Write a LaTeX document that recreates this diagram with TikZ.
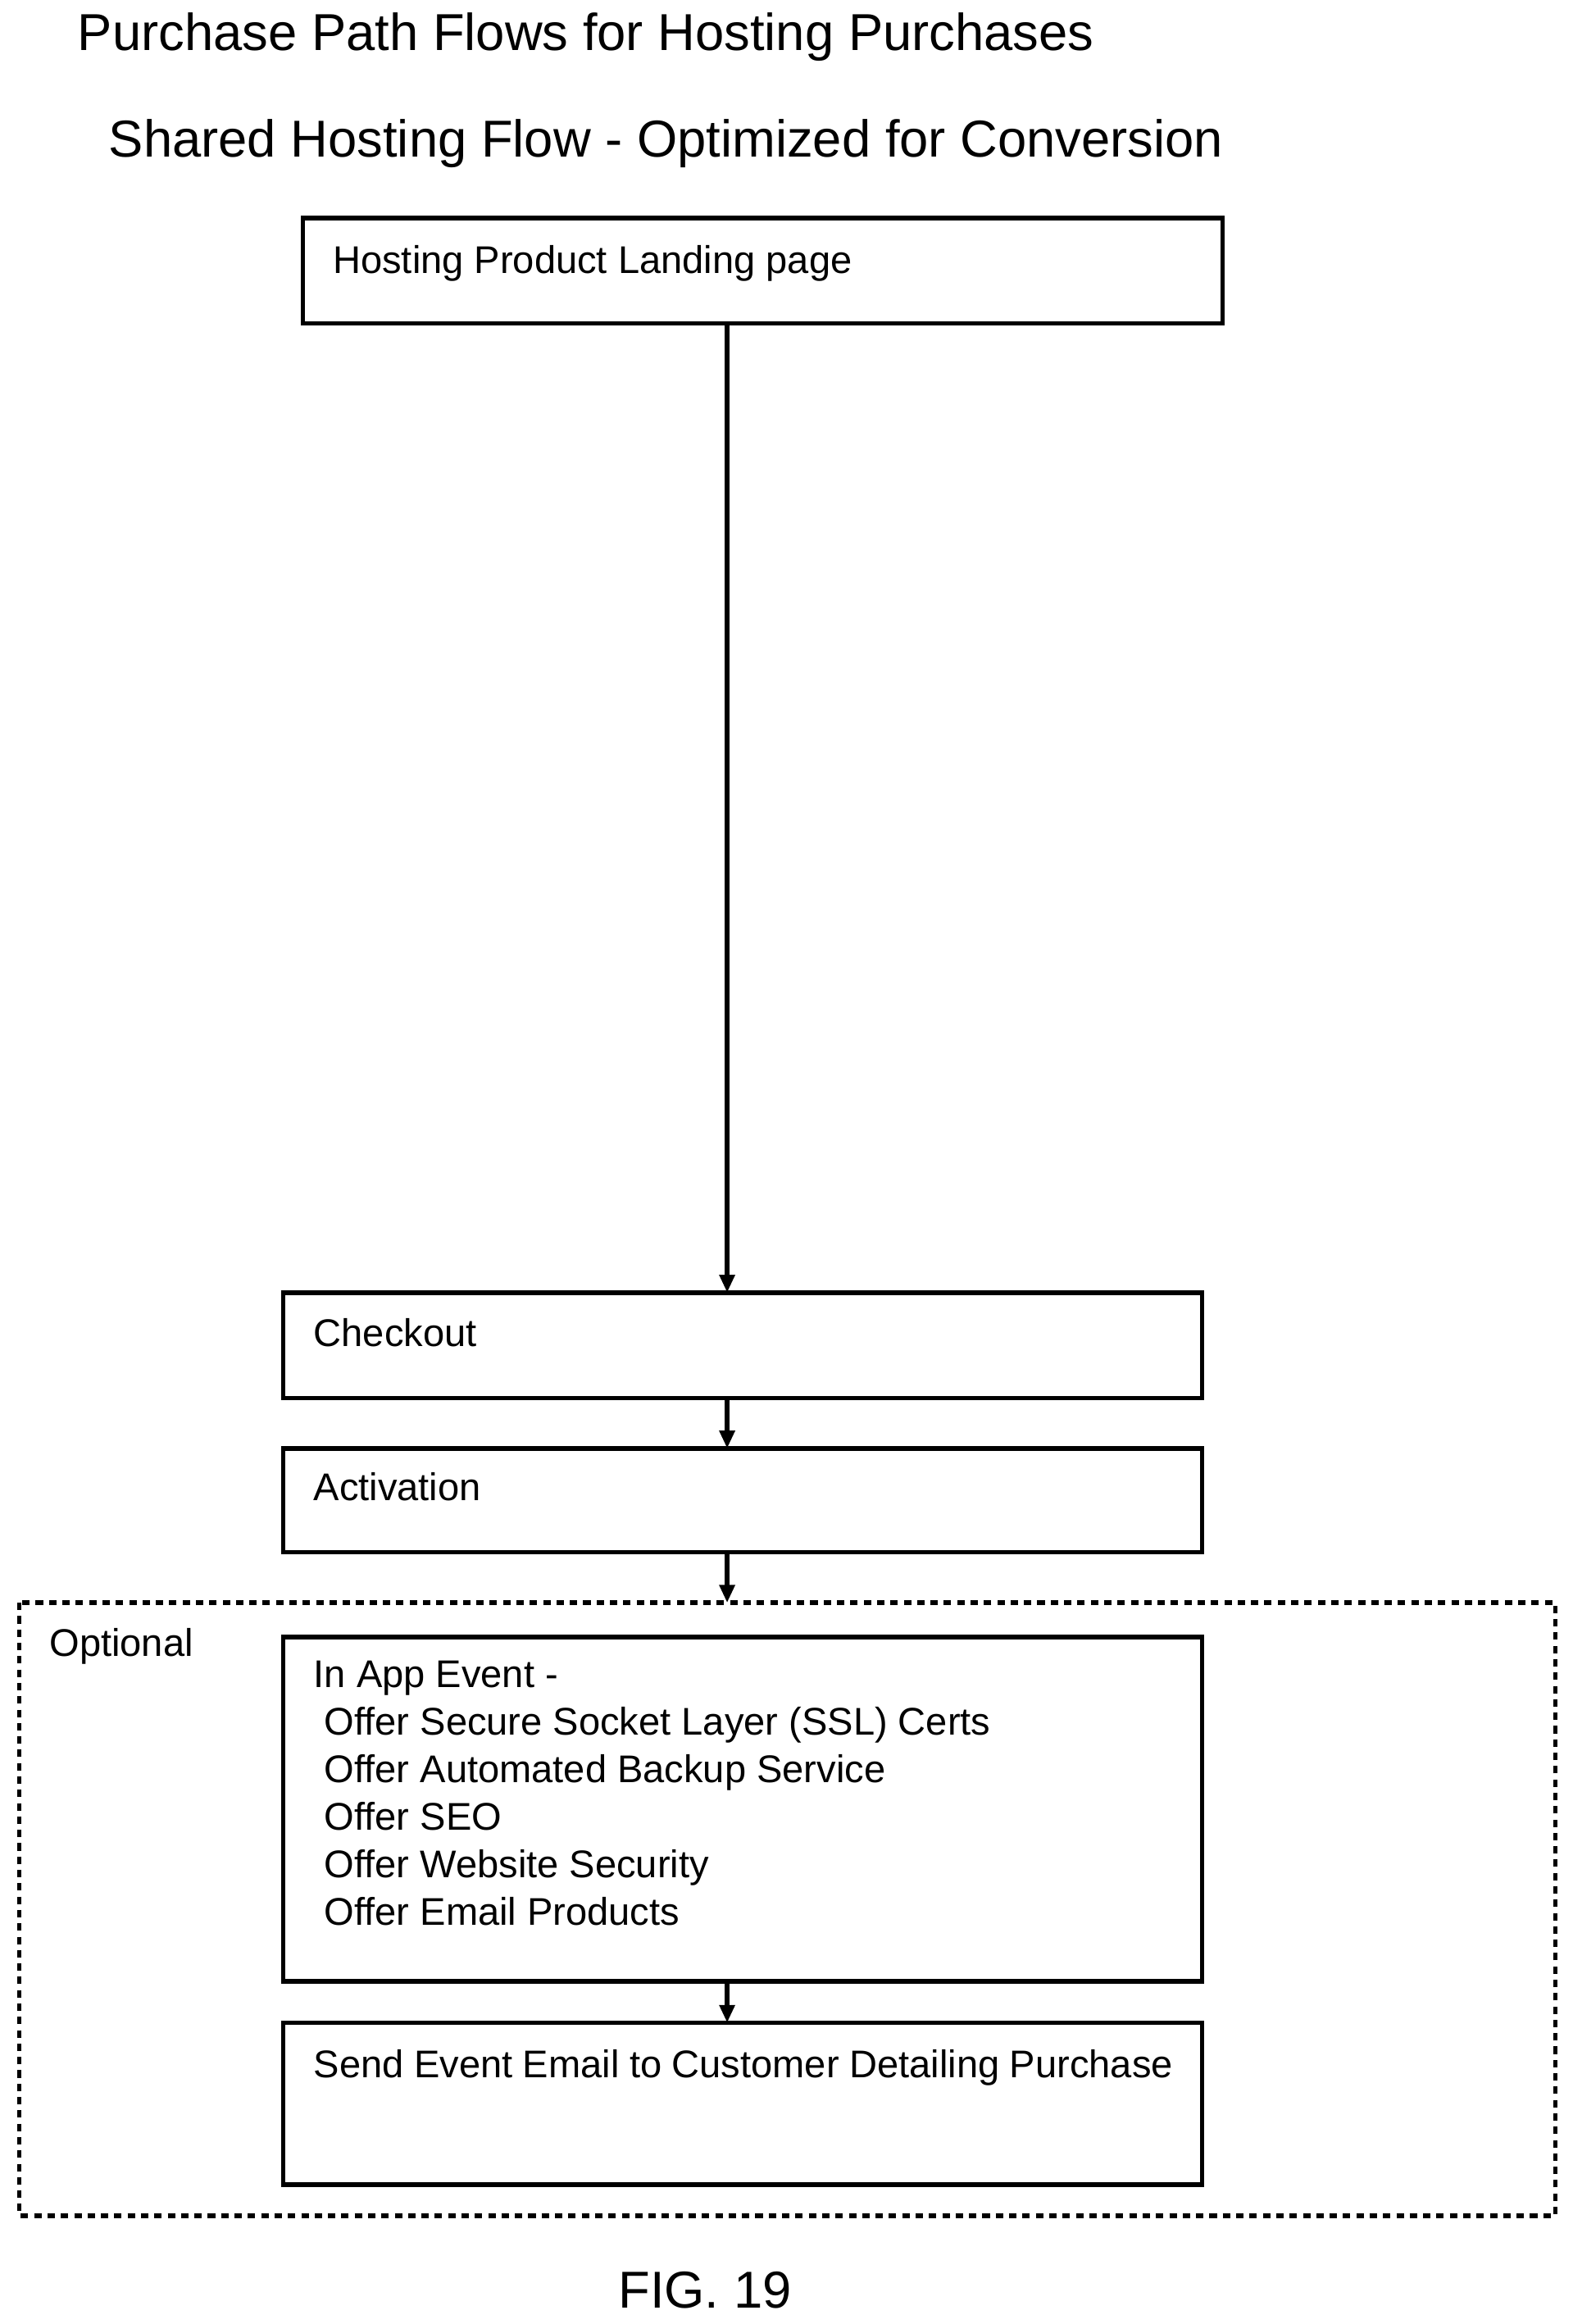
\documentclass[tikz,border=0pt]{standalone}
\usepackage{fontspec}
\setmainfont{Liberation Sans}
\usetikzlibrary{arrows.meta}
\begin{document}
\begin{tikzpicture}[x=0.5pt,y=-0.5pt,
  box/.style={draw,line width=1.5pt,inner sep=0pt},
  txt/.style={anchor=north west,inner sep=0pt,font=\fontsize{13}{16}\selectfont,align=left},
  arr/.style={line width=1.5pt,-{Triangle[length=6pt,width=5pt]}},
  title/.style={anchor=west,inner sep=0pt,font=\fontsize{17.5}{21}\selectfont}]
\useasboundingbox (0,0) rectangle (1060,1566);
\node[title] (t1) at (52,25) {Purchase Path Flows for Hosting Purchases};
\node[title] (t2) at (73,97) {Shared Hosting Flow - Optimized for Conversion};
\draw[box] (204,147) rectangle (824,218);
\coordinate (b1) at (490,218);
\node[txt] (l1) at (224,165) {Hosting Product Landing page};
\draw[box] (191,871) rectangle (810,942);
\coordinate (b2t) at (490,871); \coordinate (b2b) at (490,942);
\node[txt] (l2) at (211,888) {Checkout};
\draw[box] (191,976) rectangle (810,1046);
\coordinate (b3t) at (490,976); \coordinate (b3b) at (490,1046);
\node[txt] (l3) at (211,992) {Activation};
\draw[line width=1.5pt,dash pattern=on 2.5pt off 2pt] (13,1080) rectangle (1048,1493);
\coordinate (opt) at (490,1080);
\node[txt] (lo) at (33,1097) {Optional};
\draw[box] (191,1103) rectangle (810,1335);
\coordinate (b4b) at (490,1335);
\node[txt,font=\fontsize{13}{16}\selectfont] (l4) at (211,1119) {In App Event -\\
\ Offer Secure Socket Layer (SSL) Certs\\
\ Offer Automated Backup Service\\
\ Offer SEO\\
\ Offer Website Security\\
\ Offer Email Products};
\draw[box] (191,1363) rectangle (810,1472);
\coordinate (b5t) at (490,1363);
\node[txt,text width=289.5pt,align=justify] (l5) at (211,1381) {Send Event Email to Customer Detailing Purchase};
\draw[arr] (b1) -- (b2t);
\draw[arr] (b2b) -- (b3t);
\draw[arr] (b3b) -- (opt);
\draw[arr] (b4b) -- (b5t);
\node[inner sep=0pt,font=\fontsize{17.5}{21}\selectfont] (fig) at (475,1543) {FIG. 19};
\end{tikzpicture}
\end{document}
